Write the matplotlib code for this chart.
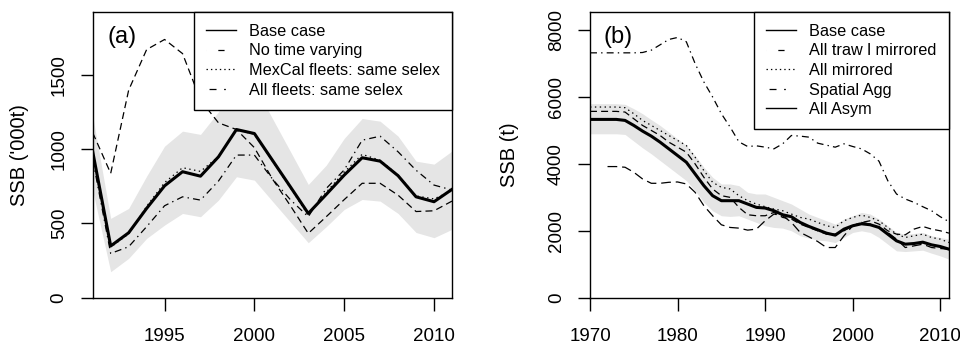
import matplotlib
matplotlib.use("Agg")
import matplotlib.pyplot as plt
from matplotlib.lines import Line2D

plt.rcParams["font.family"] = ["Liberation Sans", "DejaVu Sans"]
plt.rcParams["lines.scale_dashes"] = False

# ---- panel (a) data, SSB ('000t)
years_a = list(range(1991, 2012))
base_a = [982, 348, 437, 601, 753, 848, 818, 948, 1132, 1105, 926, 747,
          567, 695, 825, 942, 919, 821, 679, 646, 729]
no_time_varying = [1110, 837, 1397, 1670, 1738, 1643, 1330, 1177, 1132, 1010,
                   800, 620, 433, 545, 660, 770, 770, 690, 580, 585, 650]
mexcal_same = [960, 340, 430, 615, 775, 875, 850, 950, 1130, 1100, 920, 740,
               555, 710, 845, 965, 925, 825, 685, 665, 720]
all_fleets_same = [930, 298, 343, 478, 619, 679, 657, 785, 960, 960, 800, 660,
                   545, 735, 860, 1060, 1087, 982, 858, 758, 725]
upper_a = [1222, 534, 601, 818, 1020, 1121, 1099, 1251, 1457, 1430, 1207, 985,
           762, 892, 1072, 1206, 1188, 1087, 919, 899, 987]
lower_a = [720, 175, 265, 399, 489, 567, 545, 657, 814, 791, 650, 510,
           370, 478, 594, 661, 650, 567, 439, 404, 460]
labels_a = ["Base case", "No time varying", "MexCal fleets: same selex",
            "All fleets: same selex"]

# ---- panel (b) data, SSB (t)
years_b = list(range(1970, 2012))
base_b = [5330, 5330, 5330, 5330, 5300, 5150, 4980, 4830, 4650, 4450, 4250,
          4050, 3700, 3350, 3050, 2900, 2900, 2900, 2800, 2700, 2680, 2600,
          2480, 2420, 2250, 2130, 2030, 1930, 1870, 2050, 2150, 2210, 2180,
          2100, 1900, 1700, 1600, 1620, 1660, 1580, 1530, 1450]
all_mirrored = [5700, 5700, 5700, 5700, 5680, 5500, 5300, 5150, 5000, 4850,
                4700, 4550, 4200, 3800, 3450, 3300, 3250, 3050, 2900, 2800,
                2720, 2650, 2600, 2500, 2400, 2350, 2250, 2150, 2100, 2300,
                2400, 2470, 2400, 2300, 2100, 1900, 1800, 1850, 1900, 1800,
                1750, 1650]
all_asym = [5570, 5570, 5570, 5570, 5550, 5350, 5150, 5000, 4850, 4650, 4500,
            4350, 4000, 3600, 3250, 3050, 3000, 2700, 2480, 2450, 2450, 2550,
            2400, 2350, 2200, 2100, 2000, 1900, 1900, 2000, 2150, 2250, 2300,
            2200, 2000, 1900, 1880, 2050, 2130, 2050, 2000, 1930]
spatial_agg = [7320, 7320, 7320, 7320, 7320, 7320, 7330, 7400, 7560, 7720,
               7780, 7650, 7000, 6450, 6000, 5500, 5100, 4660, 4520, 4540,
               4500, 4450, 4600, 4850, 4830, 4800, 4620, 4560, 4500, 4600,
               4520, 4450, 4300, 4080, 3500, 3100, 2950, 2850, 2720, 2600,
               2420, 2270]
years_trawl = list(range(1972, 2012))
trawl_mirrored = [3920, 3920, 3900, 3750, 3550, 3420, 3420, 3450, 3460, 3400,
                  3150, 2750, 2450, 2180, 2100, 2080, 2020, 2050, 2300, 2500,
                  2450, 2250, 1950, 1820, 1680, 1500, 1500, 1850, 2150, 2250,
                  2200, 2100, 1950, 1750, 1500, 1550, 1600, 1500, 1470, 1450]
upper_b = [5800, 5800, 5800, 5800, 5780, 5650, 5500, 5320, 5150, 4950, 4750,
           4550, 4250, 3900, 3600, 3400, 3400, 3350, 3150, 3100, 3100, 3000,
           2900, 2800, 2650, 2500, 2400, 2300, 2200, 2350, 2450, 2550, 2500,
           2350, 2150, 1950, 1900, 1920, 1950, 1850, 1800, 1750]
lower_b = [4900, 4900, 4900, 4900, 4880, 4680, 4480, 4300, 4100, 3900, 3700,
           3500, 3200, 2850, 2600, 2450, 2430, 2450, 2350, 2250, 2150, 2100,
           2080, 2000, 1850, 1780, 1720, 1700, 1650, 1800, 1950, 2000, 1950,
           1800, 1600, 1400, 1380, 1400, 1420, 1330, 1250, 1150]
labels_b = ["Base case", "All traw l mirrored", "All mirrored", "Spatial Agg",
            "All Asym"]

band = "#e5e5e5"
thin = 0.9
dashed = (0, (5, 3))
longdash = (0, (7, 3.5))
dashdot = (0, (5, 3, 1, 3))
dotted = (0, (1, 2.5))

fig = plt.figure(figsize=(9.6, 3.46), dpi=100)
ax1 = fig.add_axes([0.0966, 0.1396, 0.3742, 0.8266])
ax2 = fig.add_axes([0.6146, 0.1396, 0.3740, 0.8266])

# (a)
ax1.fill_between(years_a, lower_a, upper_a, color=band, lw=0)
ax1.plot(years_a, no_time_varying, color="black", lw=thin, ls=dashed)
ax1.plot(years_a, mexcal_same, color="black", lw=thin, ls=dotted)
ax1.plot(years_a, all_fleets_same, color="black", lw=thin, ls=dashdot)
ax1.plot(years_a, base_a, color="black", lw=2.2)
ax1.set_xlim(1991, 2011)
ax1.set_ylim(0, 1925)
ax1.set_xticks([1995, 2000, 2005, 2010])
ax1.set_yticks([0, 500, 1000, 1500], ["0", "500", "1000", "1500"],
               rotation=90, va="center")
ax1.set_ylabel("SSB ('000t)", fontsize=14.5)
ax1.yaxis.set_label_coords(-0.177, 0.5)
ax1.text(0.04, 0.912, "(a)", transform=ax1.transAxes, fontsize=17, va="center")

# (b)
ax2.fill_between(years_b, lower_b, upper_b, color=band, lw=0)
ax2.plot(years_b, spatial_agg, color="black", lw=thin, ls=dashdot)
ax2.plot(years_trawl, trawl_mirrored, color="black", lw=thin, ls=longdash)
ax2.plot(years_b, all_asym, color="black", lw=thin, ls=dashed)
ax2.plot(years_b, all_mirrored, color="black", lw=thin, ls=dotted)
ax2.plot(years_b, base_b, color="black", lw=2.2)
ax2.set_xlim(1970, 2011)
ax2.set_ylim(0, 8550)
ax2.set_xticks([1970, 1980, 1990, 2000, 2010])
ax2.set_yticks([0, 2000, 4000, 6000, 8000],
               ["0", "2000", "4000", "6000", "8000"], rotation=90, va="center")
ax2.set_ylabel("SSB (t)", fontsize=14.5)
ax2.yaxis.set_label_coords(-0.198, 0.5)
ax2.text(0.037, 0.912, "(b)", transform=ax2.transAxes, fontsize=17, va="center")

# legend samples: a single centred dash like the R legend
one_dash = (0, (0.01, 8.5, 4.5, 40))
dash_dot_key = (0, (0.01, 2.2, 5, 5.5, 1.2, 40))
dot_key = (0, (1, 2.2))
handles_a = [Line2D([], [], color="black", lw=1.0),
             Line2D([], [], color="black", lw=thin, ls=one_dash),
             Line2D([], [], color="black", lw=thin, ls=dot_key),
             Line2D([], [], color="black", lw=thin, ls=dash_dot_key)]
handles_b = [Line2D([], [], color="black", lw=1.0),
             Line2D([], [], color="black", lw=thin, ls=one_dash),
             Line2D([], [], color="black", lw=thin, ls=dot_key),
             Line2D([], [], color="black", lw=thin, ls=dash_dot_key),
             Line2D([], [], color="black", lw=1.0)]

for ax, h, lab in [(ax1, handles_a, labels_a), (ax2, handles_b, labels_b)]:
    leg = ax.legend(h, lab, loc="upper right", fontsize=11.7, fancybox=False,
                    framealpha=1, edgecolor="black", borderaxespad=0,
                    handlelength=1.85, handletextpad=0.8, labelspacing=0.28,
                    borderpad=0.75)
    leg.get_frame().set_linewidth(1.0)
    for s in ax.spines.values():
        s.set_linewidth(1.0)
    ax.tick_params(axis="both", labelsize=13.5, length=9, width=1.0)
    ax.tick_params(axis="x", pad=12.5)
    ax.tick_params(axis="y", pad=9)

fig.savefig("out.png", dpi=100)
